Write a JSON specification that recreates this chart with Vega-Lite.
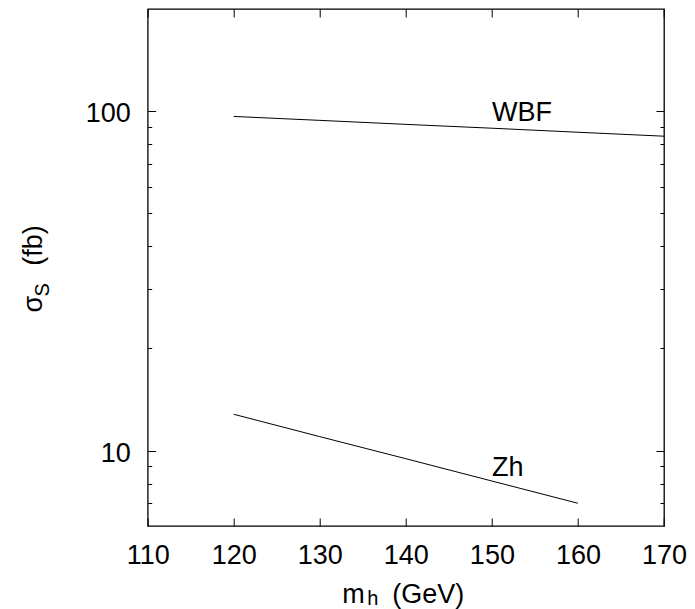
{
  "$schema": "https://vega.github.io/schema/vega-lite/v6.json",
  "autosize": {"type": "none"},
  "padding": {"left": 147.7, "top": 9, "right": 31, "bottom": 83},
  "width": 516.3,
  "height": 517,
  "background": "white",
  "config": {
    "view": {"stroke": "black", "strokeWidth": 1.3},
    "font": "Liberation Sans",
    "axis": {
      "grid": false,
      "domain": false,
      "tickColor": "black",
      "tickWidth": 1,
      "labelColor": "black",
      "titleColor": "black",
      "labelFont": "Liberation Sans",
      "titleFont": "Liberation Sans",
      "labelFontSize": 27,
      "titleFontSize": 27,
      "titleFontWeight": "normal",
      "labelFlush": false,
      "labelOverlap": false
    }
  },
  "data": {
    "values": [
      {"mh": 120, "sigma": 96.5, "process": "WBF"},
      {"mh": 130, "sigma": 93.97, "process": "WBF"},
      {"mh": 140, "sigma": 91.45, "process": "WBF"},
      {"mh": 150, "sigma": 89.1, "process": "WBF"},
      {"mh": 160, "sigma": 86.7, "process": "WBF"},
      {"mh": 170, "sigma": 84.4, "process": "WBF"},
      {"mh": 120, "sigma": 12.8, "process": "Zh"},
      {"mh": 130, "sigma": 11.0, "process": "Zh"},
      {"mh": 140, "sigma": 9.47, "process": "Zh"},
      {"mh": 150, "sigma": 8.14, "process": "Zh"},
      {"mh": 160, "sigma": 7.0, "process": "Zh"}
    ]
  },
  "resolve": {"axis": {"x": "independent", "y": "independent"}},
  "layer": [
    {
      "mark": {"type": "line", "color": "black", "strokeWidth": 1},
      "encoding": {
        "x": {
          "field": "mh", "type": "quantitative",
          "scale": {"domain": [110, 170], "nice": false, "zero": false},
          "axis": {
            "orient": "bottom",
            "values": [110, 120, 130, 140, 150, 160, 170],
            "tickSize": -8,
            "labelPadding": 24,
            "format": "d",
            "title": "(GeV)",
            "titleX": 244,
            "titleY": 76,
            "titleAlign": "left",
            "titleBaseline": "alphabetic",
            "titleAngle": 0
          }
        },
        "y": {
          "field": "sigma", "type": "quantitative",
          "scale": {"type": "log", "domain": [6, 200], "nice": false},
          "axis": {
            "orient": "left",
            "values": [10, 100],
            "tickSize": -8,
            "labelPadding": 25.3,
            "labelOffset": 2.4,
            "format": "d",
            "title": "(fb)",
            "titleX": -106,
            "titleY": 236,
            "titleAngle": 270,
            "titleAlign": "center",
            "titleBaseline": "alphabetic"
          }
        },
        "detail": {"field": "process"}
      }
    },
    {
      "data": {
        "values": [
          {"mh": 150, "sigma": 93.6, "label": "WBF"},
          {"mh": 150, "sigma": 8.42, "label": "Zh"}
        ]
      },
      "mark": {"type": "text", "align": "left", "baseline": "alphabetic", "fontSize": 27, "font": "Liberation Sans", "color": "black"},
      "encoding": {
        "x": {
          "field": "mh", "type": "quantitative",
          "axis": {
            "orient": "top",
            "values": [110, 120, 130, 140, 150, 160, 170],
            "tickSize": -8,
            "labels": false,
            "title": "m",
            "titleX": 194,
            "titleY": 593,
            "titleAlign": "left",
            "titleBaseline": "alphabetic",
            "titleAngle": 0
          }
        },
        "y": {
          "field": "sigma", "type": "quantitative",
          "axis": {
            "orient": "right",
            "values": [10, 100],
            "tickSize": -8,
            "labels": false,
            "title": null
          }
        },
        "text": {"field": "label"}
      }
    },
    {
      "mark": {"type": "line", "opacity": 0},
      "encoding": {
        "x": {
          "field": "mh", "type": "quantitative",
          "axis": {
            "orient": "bottom",
            "ticks": false,
            "labels": false,
            "title": "h",
            "titleFontSize": 20,
            "titleX": 219,
            "titleY": 78,
            "titleAlign": "left",
            "titleBaseline": "alphabetic",
            "titleAngle": 0
          }
        },
        "y": {
          "field": "sigma", "type": "quantitative",
          "axis": {
            "orient": "left",
            "values": [7, 8, 9, 20, 30, 40, 50, 60, 70, 80, 90],
            "tickSize": -4,
            "labels": false,
            "title": "σ",
            "titleX": -106,
            "titleY": 303,
            "titleAngle": 270,
            "titleAlign": "left",
            "titleBaseline": "alphabetic"
          }
        },
        "detail": {"field": "process"}
      }
    },
    {
      "mark": {"type": "line", "opacity": 0},
      "encoding": {
        "x": {"field": "mh", "type": "quantitative", "axis": null},
        "y": {
          "field": "sigma", "type": "quantitative",
          "axis": {
            "orient": "right",
            "values": [7, 8, 9, 20, 30, 40, 50, 60, 70, 80, 90],
            "tickSize": -4,
            "labels": false,
            "title": "S",
            "titleFontSize": 20,
            "titleX": -616,
            "titleY": 287,
            "titleAngle": 270,
            "titleAlign": "left",
            "titleBaseline": "alphabetic"
          }
        },
        "detail": {"field": "process"}
      }
    }
  ]
}
